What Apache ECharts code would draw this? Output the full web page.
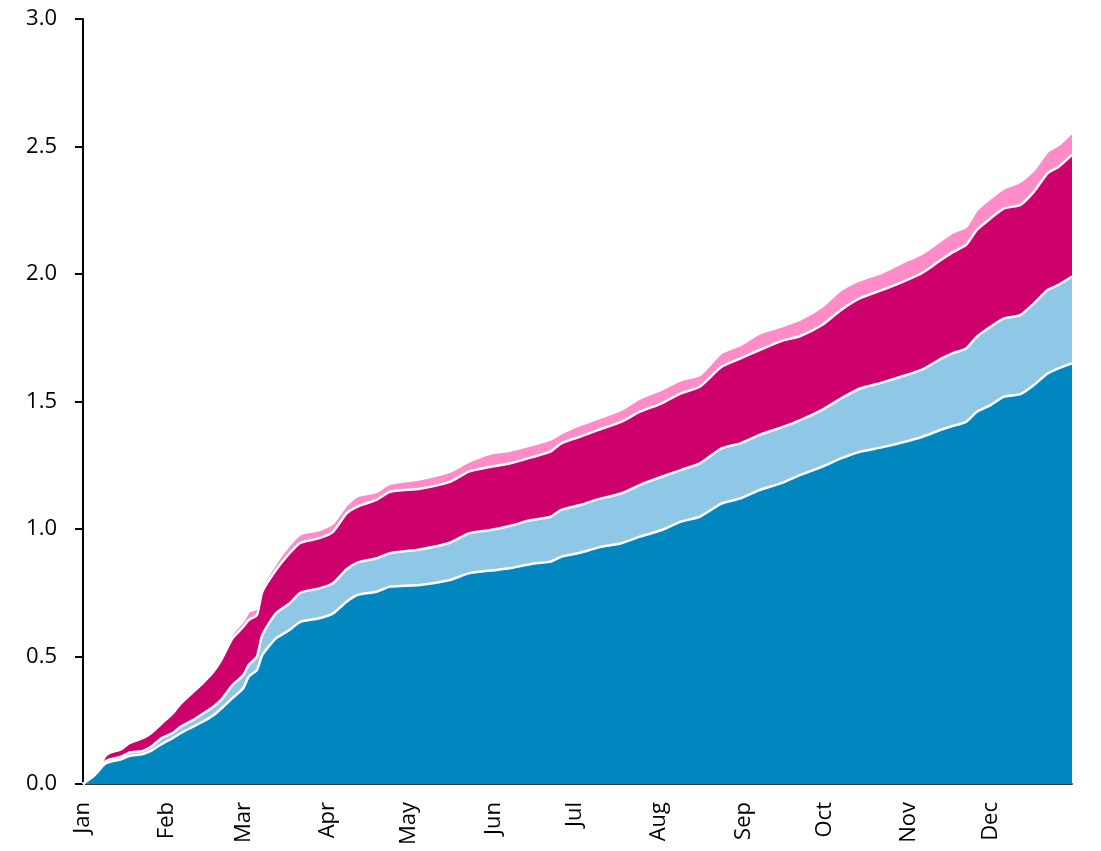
<!DOCTYPE html>
<html>
<head>
<meta charset="utf-8">
<script src="https://cdn.jsdelivr.net/npm/echarts@6/dist/echarts.min.js"></script>
<style>
html,body{margin:0;padding:0;background:#fff;}
#chart{width:1101px;height:851px;}
</style>
</head>
<body>
<div id="chart"></div>
<script>
// Day of year for each sampled point
const days = [0,3,5,8,10,14,17,22,25,29,33,36,40,44,48,51,55,59,61,64,66,71,76,80,87,92,97,101,108,113,124,135,142,150,157,165,172,176,183,190,198,205,213,220,227,235,242,249,257,264,272,279,286,294,301,309,316,320,325,329,334,339,345,350,355,359,364];

// Layer values (stacked), bottom to top
const seriesA = [0,0.023,0.043,0.078,0.087,0.097,0.110,0.118,0.130,0.157,0.180,0.200,0.222,0.244,0.270,0.297,0.337,0.376,0.421,0.447,0.506,0.571,0.604,0.636,0.650,0.669,0.715,0.741,0.754,0.774,0.780,0.800,0.826,0.837,0.846,0.863,0.872,0.891,0.907,0.928,0.944,0.970,0.996,1.029,1.048,1.100,1.120,1.153,1.180,1.212,1.244,1.277,1.303,1.320,1.338,1.362,1.390,1.404,1.420,1.460,1.486,1.519,1.529,1.565,1.610,1.630,1.650];
const seriesB = [0,0,0,0.009,0.010,0.010,0.013,0.012,0.016,0.023,0.020,0.025,0.026,0.031,0.033,0.035,0.051,0.051,0.046,0.052,0.078,0.098,0.104,0.114,0.117,0.118,0.127,0.127,0.131,0.131,0.140,0.146,0.157,0.159,0.166,0.172,0.176,0.184,0.187,0.190,0.195,0.203,0.209,0.202,0.209,0.216,0.216,0.216,0.218,0.215,0.223,0.235,0.248,0.254,0.259,0.264,0.279,0.285,0.288,0.294,0.307,0.307,0.310,0.320,0.327,0.327,0.340];
const seriesC = [0,0,0,0.020,0.026,0.029,0.037,0.050,0.053,0.058,0.077,0.091,0.108,0.120,0.137,0.157,0.183,0.190,0.176,0.164,0.170,0.170,0.197,0.196,0.197,0.202,0.219,0.220,0.229,0.241,0.238,0.239,0.242,0.248,0.245,0.246,0.255,0.261,0.268,0.272,0.281,0.287,0.288,0.301,0.301,0.320,0.333,0.333,0.339,0.330,0.333,0.347,0.354,0.363,0.369,0.379,0.388,0.396,0.406,0.419,0.425,0.431,0.432,0.438,0.458,0.463,0.477];
const seriesD = [0,0,0,0.003,0.003,0.002,0.002,0.002,0.003,0.004,0.004,0.005,0.006,0.007,0.010,0.011,0.019,0.023,0.033,0.027,0.020,0.026,0.032,0.034,0.032,0.033,0.033,0.041,0.032,0.032,0.037,0.040,0.039,0.052,0.050,0.048,0.048,0.039,0.046,0.045,0.047,0.052,0.054,0.052,0.046,0.055,0.053,0.065,0.057,0.065,0.072,0.078,0.071,0.068,0.076,0.076,0.076,0.077,0.071,0.078,0.079,0.079,0.091,0.085,0.085,0.086,0.088];

const monthStarts = [0,31,59,90,120,151,181,212,243,273,304,334];
const monthLabels = ['Jan','Feb','Mar','Apr','May','Jun','Jul','Aug','Sep','Oct','Nov','Dec'];
const yTicks = {min:0, max:3, interval:0.5};
const DAYS_IN_YEAR = 365;

const colors = ['#0087C0','#8FC7E6','#CE006B','#FF8BC8'];
const layers = [seriesA, seriesB, seriesC, seriesD];

// category list: one entry per day of the year
const dayCats = [];
for (let d = 0; d < DAYS_IN_YEAR; d++) {
  const m = monthStarts.indexOf(d);
  dayCats.push(m >= 0 ? monthLabels[m] : 'd' + d);
}

const chart = echarts.init(document.getElementById('chart'), null, {renderer:'canvas'});
const font = '"Open Sans", "Liberation Sans", sans-serif';

chart.setOption({
  animation: false,
  backgroundColor: '#ffffff',
  grid: {left: 83, right: 29, top: 19, bottom: 67, containLabel: false},
  xAxis: {
    type: 'category', data: dayCats, boundaryGap: false,
    axisLine: {show: true, onZero: false, lineStyle: {color: '#3a3a3a', width: 2}},
    axisTick: {show: false},
    splitLine: {show: false},
    axisLabel: {
      rotate: 90, margin: 18, fontSize: 22, color: '#000', fontFamily: font,
      interval: function (idx) { return monthStarts.indexOf(idx) >= 0; }
    }
  },
  yAxis: {
    type: 'value', min: yTicks.min, max: yTicks.max, interval: yTicks.interval,
    axisLine: {show: true, lineStyle: {color: '#000', width: 2}},
    axisTick: {show: true, inside: false, length: 8, lineStyle: {color: '#000', width: 2}},
    splitLine: {show: false},
    axisLabel: {fontSize: 22, color: '#000', margin: 26, fontFamily: font,
      formatter: v => v.toFixed(1)}
  },
  series: layers.map((arr, k) => ({
    type: 'line',
    stack: 'total',
    z: 10 - k,
    smooth: 0.2,
    showSymbol: false,
    data: days.map((d, i) => [d, arr[i]]),
    lineStyle: {color: '#ffffff', width: 2.5},
    itemStyle: {color: colors[k]},
    areaStyle: {color: colors[k], opacity: 1}
  }))
});
</script>
</body>
</html>
